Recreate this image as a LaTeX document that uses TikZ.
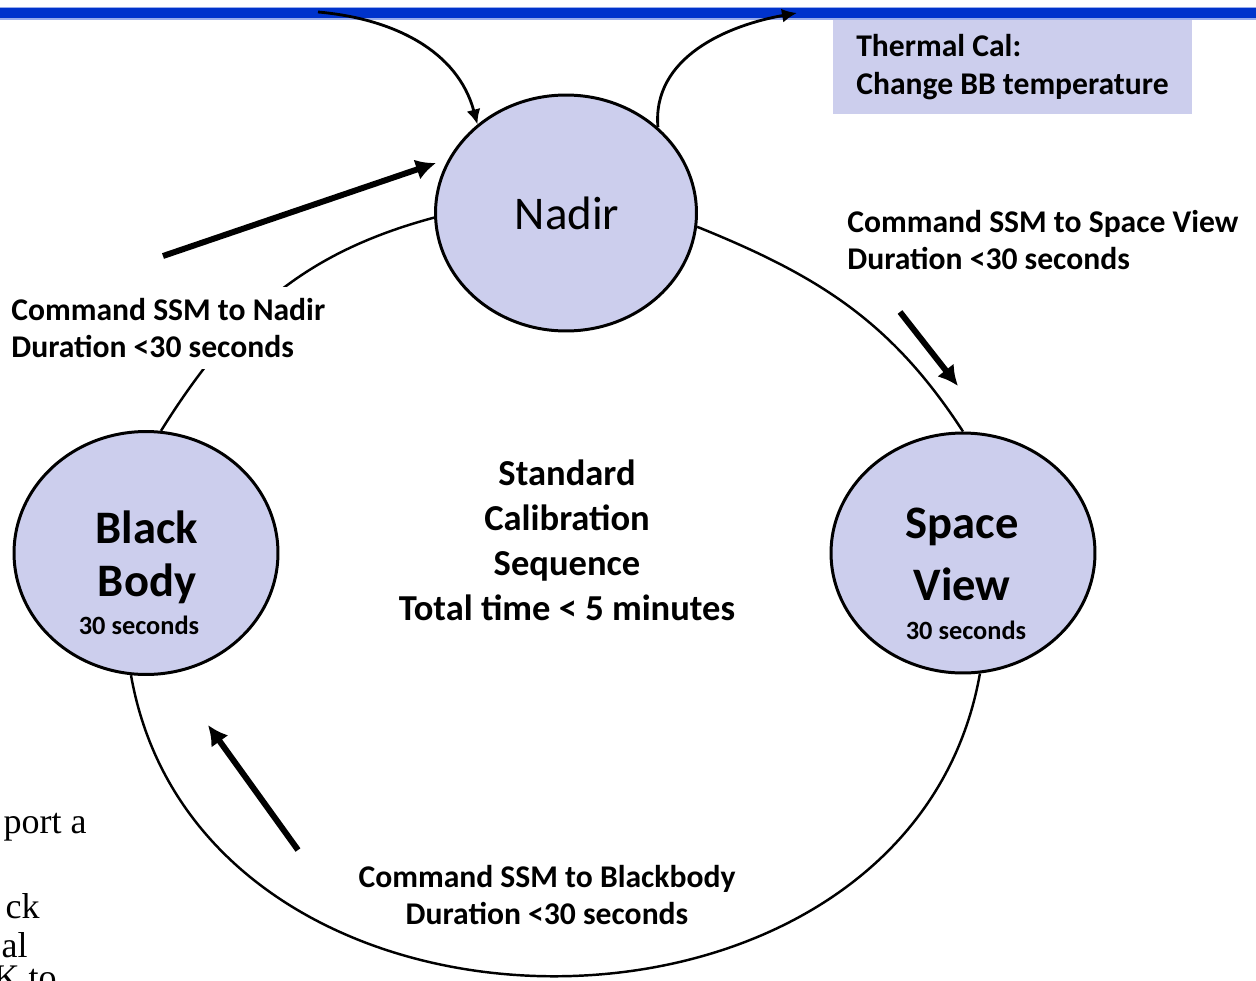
\documentclass[tikz,border=0pt]{standalone}
\usepackage{fontspec}
\setmainfont{Carlito}
\newfontfamily\fragfont{Liberation Serif}
\usetikzlibrary{shapes.geometric,arrows.meta,positioning}
\definecolor{lavender}{RGB}{204,206,237}
\definecolor{barblue}{RGB}{0,51,204}

\tikzset{
  state/.style={ellipse, draw, line width=1.7pt, fill=lavender, inner sep=0pt},
  ring/.style={line width=1.4pt},
  thinarrow/.style={line width=1.6pt, ->, >={Latex[length=0.3cm,width=0.28cm]}},
  fatarrow/.style={line width=3.4pt, ->, >={Latex[length=0.4cm,width=0.42cm]}},
  bigname/.style={font=\fontsize{26.5}{30}\selectfont\bfseries, inner sep=0pt},
  secs/.style={font=\fontsize{15}{18}\selectfont\bfseries, inner sep=0pt},
  lbl/.style={font=\fontsize{18}{21.6}\selectfont\bfseries, inner sep=0pt},
  frag/.style={font=\fontsize{20.5}{24}\fragfont, inner sep=0pt, anchor=base east}
}

\begin{document}
\begin{tikzpicture}[x=0.02cm,y=0.02cm]
\useasboundingbox (0,0) rectangle (1256,-980);
\clip (0,0) rectangle (1256,-980);

% title bar
\draw [fill=barblue, draw=barblue!40, line width=0.6pt] (-5,-7.5) rectangle (1261,-19);

% states
\node[state, minimum width=5.22cm, minimum height=4.72cm] (nadir) at (566,-213) {};
\node[state, minimum width=5.28cm, minimum height=4.86cm] (bb) at (146,-553) {};
\node[state, minimum width=5.28cm, minimum height=4.8cm] (sv) at (963,-553) {};

\node[font=\fontsize{26.7}{30}\selectfont, inner sep=0pt] (nadirname) at (567,-213) {Nadir};
\node[bigname] (bbname1) at (147,-527) {Black};
\node[bigname] (bbname2) at (147,-584) {Body};
\node[secs] (bbsecs) at (139,-625) {30 seconds};
\node[bigname] (svname1) at (962,-527) {Space};
\node[bigname] (svname2) at (962,-584) {View};
\node[secs] (svsecs) at (966,-630) {30 seconds};

% the cycle
\draw [ring] (nadir.-6) to[out=-22,in=123] (sv.90);
\draw [ring] (sv.-82) to[out=-100,in=-80,looseness=1.23] (bb.-97);
\draw [ring] (bb.83) to[out=58,in=195] (nadir.182);

% labels
\node[lbl, align=left, anchor=west, fill=white, inner sep=0.22cm] (tonadir) at (0,-328)
  {Command SSM to Nadir\\Duration <30 seconds};
\node[lbl, align=left, anchor=west] (tospace) at (847,-240)
  {Command SSM to Space View\\Duration <30 seconds};
\node[lbl, align=center] (tobb) at (547,-895)
  {Command SSM to Blackbody\\Duration <30 seconds};
\node[font=\fontsize{20.8}{25.6}\selectfont\bfseries, align=center, inner sep=0pt] (seq) at (567,-540)
  {Standard\\Calibration\\Sequence\\Total time < 5 minutes};

% thermal cal
\node[lbl, fill=lavender, align=left, minimum width=7.18cm, minimum height=1.88cm] (thermal)
  at (1012.5,-67) {Thermal Cal:\\Change BB temperature};
\coordinate (tin) at (318,-12);
\coordinate (tout) at (797,-13);
\draw [thinarrow] (tin) to[out=-5,in=105] (nadir.135);
\draw [thinarrow] (nadir.43) to[out=95,in=190] (tout);

% direction arrows
\coordinate (a1) at (163,-256);
\coordinate (b1) at (436,-163);
\coordinate (a2) at (900,-312);
\coordinate (b2) at (958,-386);
\coordinate (a3) at (298,-850);
\coordinate (b3) at (208,-725);
\draw [fatarrow] (a1) -- (b1);
\draw [fatarrow] (a2) -- (b2);
\draw [fatarrow] (a3) -- (b3);

% cut text at the left
\node[frag] (f1) at (87,-833) {port a};
\node[frag] (f2) at (40,-918) {ck};
\node[frag] (f3) at (28,-957) {al};
\node[frag] (f4) at (57,-989) {K to};

\end{tikzpicture}
\end{document}
